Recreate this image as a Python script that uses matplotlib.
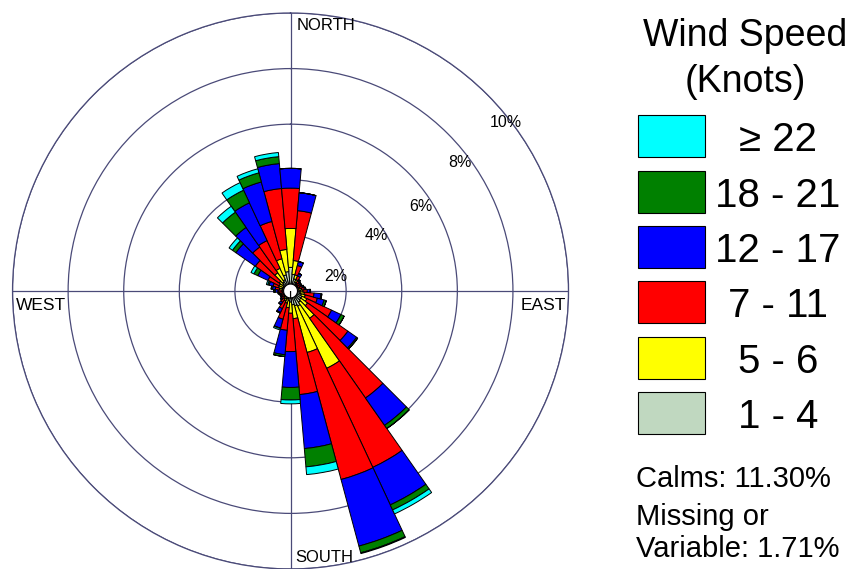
import numpy as np
import matplotlib
matplotlib.use("Agg")
import matplotlib.pyplot as plt
from matplotlib.patches import Rectangle

plt.rcParams['font.family'] = ['Liberation Sans', 'DejaVu Sans']

# wind direction (degrees, from north clockwise)
directions = list(range(10, 370, 10))

# frequency (%) per speed class, one value per direction
spd_1_4 = [0.6, 0.45, 0.35, 0.3, 0.25, 0.25, 0.3, 0.3, 0.35, 0.35, 0.4, 0.45,
           0.45, 0.5, 0.6, 0.55, 0.5, 0.4, 0.35, 0.3, 0.3, 0.25, 0.25, 0.2,
           0.2, 0.2, 0.25, 0.3, 0.3, 0.3, 0.35, 0.4, 0.45, 0.6, 0.7, 0.85]
spd_5_6 = [0.5, 0.15, 0.1, 0.05, 0.05, 0.05, 0.05, 0.1, 0.1, 0.15, 0.15, 0.2,
           0.3, 0.7, 2.47, 1.74, 0.5, 0.4, 0.25, 0.15, 0.1, 0.1, 0.05, 0.05,
           0.05, 0.1, 0.05, 0.1, 0.15, 0.15, 0.15, 0.4, 0.45, 0.6, 0.8, 1.4]
spd_7_11 = [1.8, 0.35, 0.15, 0.1, 0.1, 0.1, 0.1, 0.1, 0.15, 0.35, 0.45, 0.98,
            1.77, 3.5, 3.93, 4.73, 2.74, 1.38, 0.82, 0.6, 0.3, 0.15, 0.1, 0.1,
            0.1, 0.1, 0.15, 0.15, 0.2, 0.45, 1.05, 1.13, 1.1, 1.39, 2.2, 1.45]
spd_12_17 = [0.65, 0.15, 0.1, 0.05, 0.05, 0.05, 0.05, 0.05, 0.1, 0.25, 0.25, 0.37,
             0.38, 1.2, 1.49, 2.48, 1.95, 1.29, 0.88, 0.33, 0.15, 0.1, 0.05, 0.05,
             0.05, 0.05, 0.1, 0.1, 0.15, 0.4, 0.85, 0.86, 1.5, 1.47, 0.9, 0.71]
spd_18_21 = [0, 0, 0, 0, 0, 0, 0, 0, 0.02, 0.03, 0.08, 0.13,
             0.05, 0.14, 0.2, 0.25, 0.66, 0.45, 0.07, 0.02, 0.03, 0, 0, 0,
             0, 0, 0.05, 0.05, 0.05, 0.15, 0.15, 0.67, 0.5, 0.34, 0.25, 0]
spd_22 = [0, 0, 0, 0, 0, 0, 0, 0, 0, 0, 0, 0,
          0, 0, 0.16, 0.03, 0.28, 0.14, 0, 0.05, 0, 0, 0, 0,
          0, 0, 0, 0, 0.05, 0.12, 0.15, 0.26, 0.3, 0.15, 0.15, 0]

speed_labels = ["1 - 4", "5 - 6", "7 - 11", "12 - 17", "18 - 21", "\u2265 22"]
speed_colors = ["#c0d8c0", "#ffff00", "#ff0000", "#0000ff", "#008000", "#00ffff"]
speed_data = [spd_1_4, spd_5_6, spd_7_11, spd_12_17, spd_18_21, spd_22]

ring_values = [2, 4, 6, 8, 10]
ring_labels = ["2%", "4%", "6%", "8%", "10%"]
calms = "Calms: 11.30%"
missing = "Missing or\nVariable: 1.71%"

fig = plt.figure(figsize=(8.52, 5.69), dpi=100)
ax = fig.add_axes([0.0147, 0.0, 0.6526, 0.9772], projection="polar")
ax.set_theta_zero_location("N")
ax.set_theta_direction(-1)
ax.set_axisbelow(True)

theta = np.deg2rad(directions)
width = np.deg2rad(10)
bottom = np.zeros(len(directions))
for vals, col in zip(speed_data, speed_colors):
    vals = np.array(vals)
    ax.bar(theta, vals, width=width, bottom=bottom, color=col,
           edgecolor="black", linewidth=0.7, zorder=3)
    bottom = bottom + vals

# calm circle in the middle
ax.bar(0, 0.25, width=2 * np.pi, bottom=0, color="white",
       edgecolor="black", linewidth=0.8, zorder=4)

ax.set_ylim(0, 10)
ax.set_rgrids(ring_values, labels=[""] * len(ring_values))
ax.set_thetagrids([0, 90, 180, 270], labels=[""] * 4)
ax.grid(True, color="#4a4a78", linewidth=0.9)
ax.spines["polar"].set_color("#4a4a78")
ax.spines["polar"].set_linewidth(0.9)

# ring percent labels
lab_ang = [72, 57, 57, 53, 52]
lab_r = [1.73, 3.66, 5.61, 7.65, 9.82]
for a, r, t in zip(lab_ang, lab_r, ring_labels):
    ax.text(np.deg2rad(a), r, t, ha="center", va="center", fontsize=11.5,
            color="black", zorder=5)

# compass labels
fig.text(297 / 852, 1 - 25 / 569, "NORTH", ha="left", va="center", fontsize=12)
fig.text(295 / 852, 1 - 557 / 569, "SOUTH", ha="left", va="center", fontsize=12)
fig.text(16 / 852, 1 - 306 / 569, "WEST", ha="left", va="center", fontsize=12.5)
fig.text(566 / 852, 1 - 306 / 569, "EAST", ha="right", va="center", fontsize=12.5)

# legend
fig.text(745 / 852, 1 - 36 / 569, "Wind Speed", ha="center", va="center", fontsize=27)
fig.text(745 / 852, 1 - 82 / 569, "(Knots)", ha="center", va="center", fontsize=27)
box_top = [115, 171, 226, 281, 337, 392]
for i, (lab, col) in enumerate(zip(speed_labels[::-1], speed_colors[::-1])):
    y0 = box_top[i]
    fig.patches.append(Rectangle((638 / 852, 1 - (y0 + 42) / 569), 67 / 852, 42 / 569,
                                 transform=fig.transFigure, facecolor=col,
                                 edgecolor="black", linewidth=0.8))
    fig.text(778 / 852, 1 - (y0 + 25) / 569, lab, ha="center", va="center", fontsize=29)

fig.text(636 / 852, 1 - 479 / 569, calms, ha="left", va="center", fontsize=21)
fig.text(636 / 852, 1 - 533 / 569, missing, ha="left", va="center", fontsize=21,
         linespacing=1.2)

fig.savefig("out.png", dpi=100)
